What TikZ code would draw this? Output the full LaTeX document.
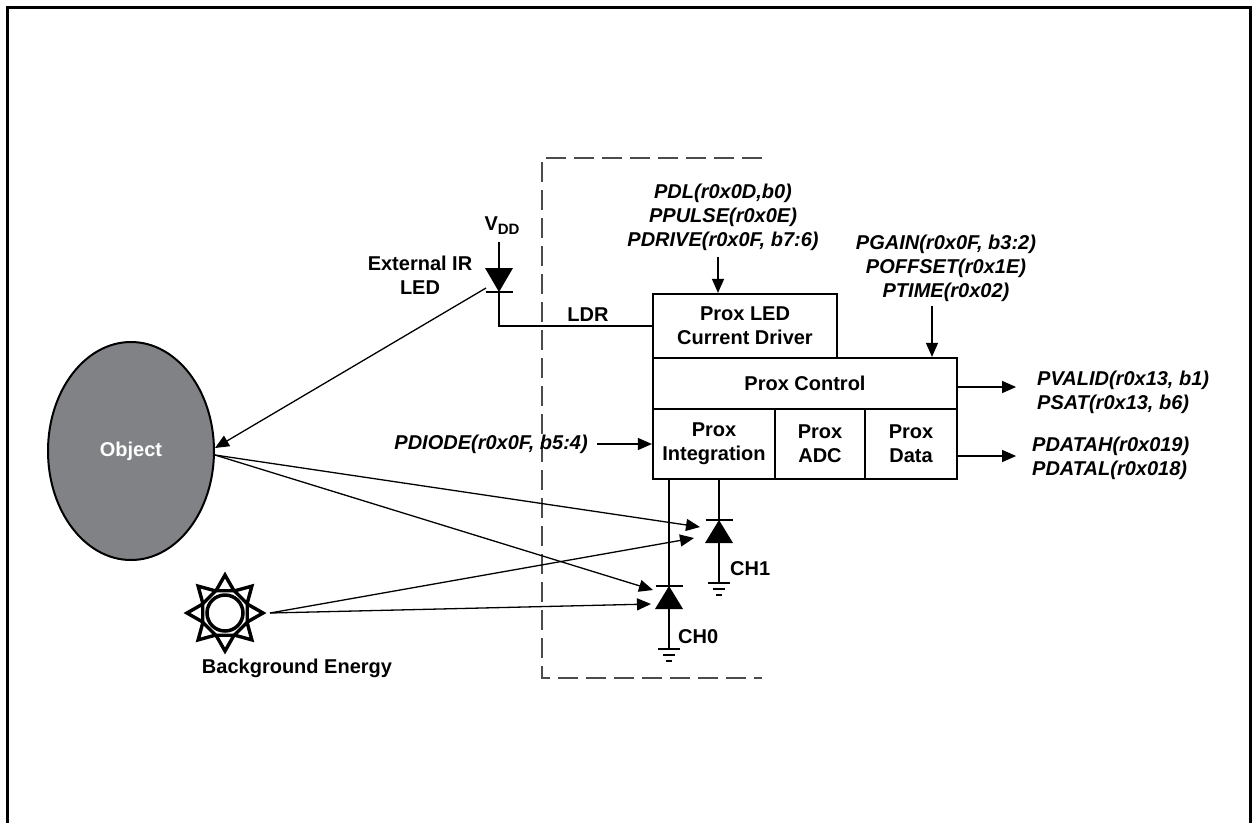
\documentclass[tikz,border=0pt]{standalone}
\usepackage{fontspec}
\setmainfont{Liberation Sans}
\usetikzlibrary{arrows.meta,shapes.geometric,calc}
\definecolor{objgray}{RGB}{128,130,133}

\begin{document}
\begin{tikzpicture}[x=1pt,y=-1pt,
		blk/.style={draw,line width=2.2pt,align=center,inner sep=0pt,font=\fontsize{20}{24}\selectfont\bfseries},
		txt/.style={align=center,inner sep=0pt,font=\fontsize{20}{24}\selectfont\bfseries},
		reg/.style={align=center,inner sep=0pt,font=\fontsize{20}{24}\selectfont\bfseries\itshape},
		wire/.style={line width=1.3pt},
		arr/.style={wire,-{Triangle[length=14pt,width=12pt]}}]
			\useasboundingbox (0,0) rectangle (1252,823);
			\draw[line width=3pt] (7,823) -- (7,7) -- (1250,7) -- (1250,823);
			
			% Chip boundary
			\draw[line width=1.2pt,black!70,dash pattern=on 20pt off 8pt] (762,158) -- (542,158) -- (542,678) -- (762,678);
			
			% Blocks
			\node[blk,minimum width=184pt,minimum height=64pt] (drv) at (745,326) {Prox LED\\Current Driver};
			\node[blk,minimum width=304pt,minimum height=51pt] (ctrl) at (805,383.5) {Prox Control};
			\node[blk,minimum width=122pt,minimum height=70pt] (integ) at (714,444) {Prox\\Integration};
			\node[blk,minimum width=90pt,minimum height=70pt] (adc) at (820,444) {Prox\\ADC};
			\node[blk,minimum width=92pt,minimum height=70pt] (pdata) at (911,444) {Prox\\Data};
			
			% Register labels
			\node[reg] (pdl) at (723,217) {PDL(r0x0D,b0)\\PPULSE(r0x0E)\\PDRIVE(r0x0F, b7:6)};
			\draw[arr] ([xshift=-27pt]drv.north |- pdl.south) ++(0,6) -- ([xshift=-27pt]drv.north);
			\node[reg] (pgain) at (946,268) {PGAIN(r0x0F, b3:2)\\POFFSET(r0x1E)\\PTIME(r0x02)};
			\draw[arr] ([xshift=127pt]ctrl.north |- pgain.south) ++(0,4) -- ([xshift=127pt]ctrl.north);
			\node[reg,anchor=east] (pdiode) at (588,444) {PDIODE(r0x0F, b5:4)};
			\draw[arr] ([xshift=9pt]pdiode.east) -- (integ.west);
			\draw[arr] ([yshift=-3.5pt]ctrl.east) -- ++(58,0) coordinate (pvout);
			\node[reg,anchor=west,align=left] (pvalid) at (1037,392) {PVALID(r0x13, b1)\\PSAT(r0x13, b6)};
			\draw[arr] ([yshift=-12pt]pdata.east) -- ++(58,0) coordinate (pdout);
			\node[reg,anchor=west,align=left] (pdatah) at (1032,458) {PDATAH(r0x019)\\PDATAL(r0x018)};
			
			% External LED
			\coordinate (led) at (499,292);
			\node[txt] (vdd) at (502,226) {V{\fontsize{15}{15}\selectfont\raisebox{-4pt}{DD}}};
			\node[txt] (extled) at (420,275) {External IR\\LED};
			\node[txt] (ldr) at (588,315) {LDR};
			\fill (led) -- ++(-14,-24) -- ++(28,0) -- cycle;
			\draw[wire] (led) ++(-13.5,0) -- ++(27,0);
			\draw[wire] (led) ++(0,-24) -- ++(0,-26);
			\draw[wire] (led) |- (drv.west);
			
			% Object
			\node[ellipse,draw,line width=2pt,fill=objgray,minimum width=166pt,minimum height=218pt,text=white,font=\fontsize{20}{24}\selectfont\bfseries] (obj) at (131,451) {Object};
			\draw[arr] (led) ++(-13,-4) -- ([yshift=3pt]obj.east);
			
			% Background energy
			\coordinate (sun) at (225,613);
			\draw[line width=3.5pt] (sun) circle[radius=18pt];
			\foreach \a in {0,45,...,315}
				\draw[line width=3.4pt] ($(sun)+(\a-22:24)$) -- ($(sun)+(\a:38)$) -- ($(sun)+(\a+22:24)$) -- cycle;
			\node[txt] (bg) at (297,668) {Background Energy};
			\coordinate (sunout) at (270,613);
			
			% Photodiodes
			\coordinate (dch1) at (719,520);
			\coordinate (dch0) at (669,586);
			\foreach \d in {dch1,dch0} {
				\fill (\d) -- ++(-14,23) -- ++(28,0) -- cycle;
				\draw[wire] (\d) ++(-13.5,0) -- ++(27,0);
				\draw[wire] (\d |- integ.south) -- (\d);
				\draw[wire] (\d) ++(0,23) -- ++(0,40) coordinate (gnd);
				\draw[wire] (gnd) ++(-11,0) -- ++(22,0) (gnd) ++(-6,6) -- ++(12,0) (gnd) ++(-3,12) -- ++(6,0);
			}
			\node[txt,anchor=west] (ch1) at (730,569) {CH1};
			\node[txt,anchor=west] (ch0) at (678,637) {CH0};
			
			% Light paths
			\coordinate (t1a) at (700,527);
			\coordinate (t1b) at (694,538);
			\coordinate (t0a) at (653,590);
			\coordinate (t0b) at (651,604);
			\draw[arr] ([yshift=-4pt]obj.east) -- (t1a);
			\draw[arr] ([yshift=-4pt]obj.east) -- (t0a);
			\draw[arr] (sunout) -- (t1b);
			\draw[arr] (sunout) -- (t0b);
		\end{tikzpicture}
\end{document}
